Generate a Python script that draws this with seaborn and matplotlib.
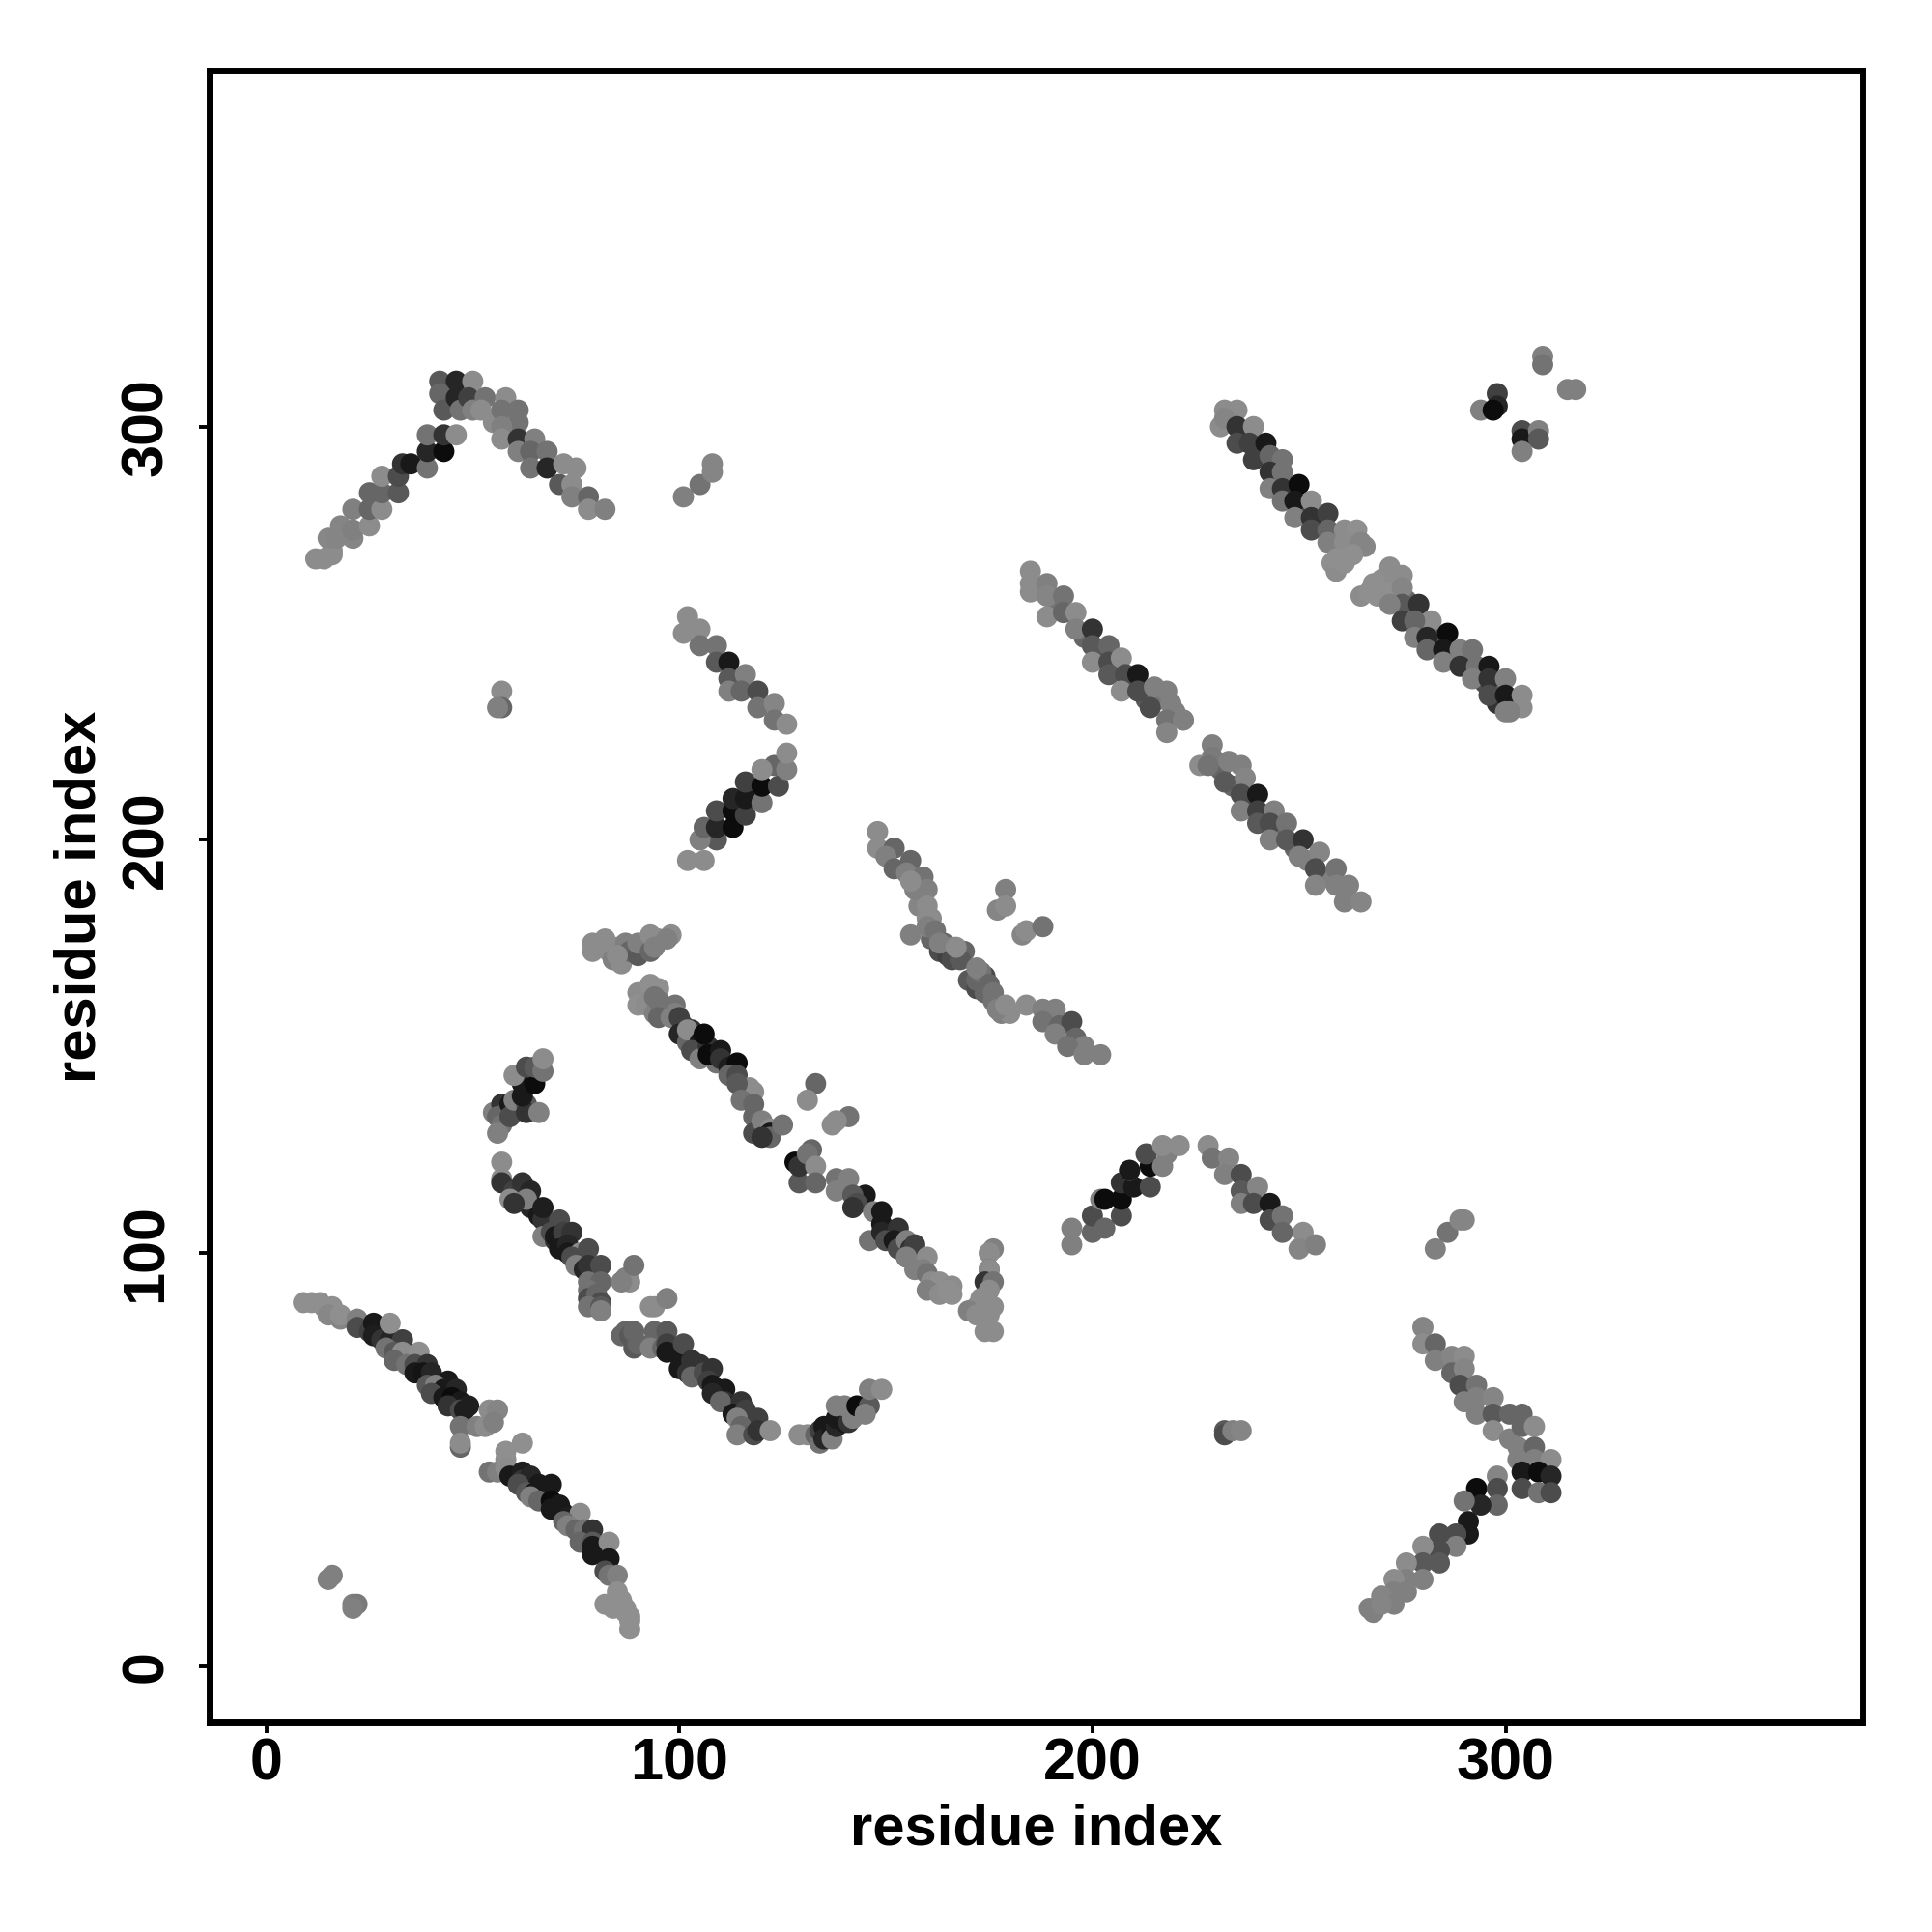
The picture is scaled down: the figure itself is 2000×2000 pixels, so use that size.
import matplotlib
matplotlib.use("Agg")
import matplotlib.pyplot as plt
import pandas as pd
import seaborn as sns

# (residue i, residue j, grey level)
band_fill = [(161,176,.4),(163,173,.3),(165,172,.25),(167,172,.3),(169,173,.4),(170,166,.35),(172,164,.3),(174,163,.4),(176,161,.45),(178,158,.5),(180,158,.55),
 (174,167,.3),(158,184,.52),(160,181,.55),(157,188,.5),(238,299,.25),(241,293,.2),(245,287,.3),(248,284,.15),(251,280,.3),(255,277,.3),(259,273,.45),(263,271,.55),
 (266,271,.53),(258,267,.56),(270,263,.56),(273,262,.55),(269,259,.56),(276,258,.4),(283,249,.3),(280,251,.35),(287,244,.3),(291,244,.35),(295,238,.3),(298,237,.35),
 (302,233,.55),(298,233,.2),(191,256,.45),(198,249,.4),(202,245,.35),(206,242,.35),(209,238,.35),(213,234,.35),(216,234,.45),(220,231,.5),(231,217,.4),(234,213,.4),
 (238,209,.3),(242,206,.25),(245,202,.4),(249,198,.4),(252,195,.5),(257,191,.5),(96,160,.45),(101,155,.3),(109,146,.45),(116,139,.5)]
band_a = [(9,88,.56),(11,88,.56),(13,88,.56),(14,87,.56),(15,86,.56),(16,87,.56),(15,85,.53),(18,84,.52),(18,85,.56),(22,84,.5),(22,82,.3),
 (25,81,.25),(26,83,.1),(26,80,.12),(28,79,.2),(30,79,.15),(33,79,.25),(30,83,.56),(29,77,.45),(31,76,.35),(33,76,.55),(37,76,.56),(31,74,.4),(34,73,.45),
 (36,73,.3),(39,73,.2),(36,71,.1),(38,71,.08),(40,71,.15),(44,69,.1),(39,68,.35),(41,68,.5),(43,67,.1),(46,67,.15),(40,66,.3),(43,65,.1),(45,65,.05),
 (47,64,.1),(49,63,.12),(44,63,.2),(47,62,.3),(48,62,.12),(47,58,.45),(51,58,.5),(53,58,.55),(54,62,.55),(56,62,.52),(55,59,.5),(47,53,.4),(47,54,.55)]
band_a2 = [(54,47,.45),(56,47,.5),(58,50,.55),(58,52,.56),(62,54,.56),(58,48,.55),(59,46,.1),(62,47,.12),(62,45,.2),(64,46,.15),(66,44,.1),(61,44,.3),
 (63,42,.35),(65,42,.1),(68,42,.1),(69,44,.1),(64,41,.5),(66,40,.4),(69,40,.05),(71,39,.1),(72,37,.1),(69,38,.1),(73,36,.12),(76,37,.55),(72,35,.4),
 (73,34,.5),(75,33,.4),(77,33,.45),(79,33,.2),(76,30,.4),(79,30,.35),(79,29,.1),(83,30,.55),(79,27,.1),(83,26,.1),(82,23,.3),(83,22,.45),(85,22,.5),
 (85,18,.56),(82,15,.56),(85,15,.56),(87,14,.56),(84,14,.56),(87,13,.56),(88,12,.56),(88,11,.56),(88,9,.56),(86,16,.56)]
spots_low = [(15,21,.5),(16,22,.5),(21,15,.5),(22,15,.48),(21,14,.5),(87,94,.5),(88,93,.55),(89,97,.45),(86,93,.5),(94,87,.55),(93,87,.55),(97,89,.5),
 (232,57,.35),(232,56,.3),(234,57,.5),(236,57,.52)]
band_b = [(57,122,.55),(57,118,.55),(57,117,.2),(60,115,.25),(62,117,.2),(64,112,.1),(64,111,.15),(64,115,.15),(63,113,.5),(59,113,.55),(60,112,.2),
 (66,109,.1),(67,108,.2),(67,111,.12),(71,108,.3),(67,104,.5),(69,105,.3),(70,103,.2),(70,104,.1),(72,105,.25),(74,105,.2),(71,101,.1),(73,102,.15),
 (73,100,.1),(76,100,.55),(78,101,.3),(74,99,.3),(75,97,.5),(77,96,.15),(78,97,.2),(81,97,.3),(78,93,.45),(81,93,.4),(78,91,.45),(78,89,.3),(80,90,.4),
 (81,88,.3),(78,87,.45),(81,87,.35),(81,86,.5)]
band_b2 = [(55,134,.5),(57,136,.2),(58,134,.3),(56,133,.4),(57,131,.45),(56,129,.5),(59,136,.1),(59,133,.3),(60,137,.5),(63,136,.35),(63,134,.2),
 (62,138,.1),(62,141,.1),(65,141,.05),(60,143,.55),(63,145,.3),(65,145,.35),(66,134,.5),(67,144,.45),(67,147,.55)]
band_c = [(86,80,.4),(87,81,.4),(88,80,.35),(89,81,.4),(89,77,.35),(90,78,.4),(94,81,.4),(93,77,.5),(96,77,.4),(97,81,.35),(97,78,.25),(97,76,.1),
 (100,75,.1),(101,78,.3),(100,72,.1),(102,71,.2),(103,74,.2),(105,73,.2),(103,70,.4),(106,71,.3),(108,72,.2),(107,69,.25),(108,68,.1),(110,66,.15),
 (111,67,.1),(108,66,.15),(111,64,.2),(113,63,.15),(110,64,.4),(115,64,.2),(113,61,.1),(116,62,.25),(119,60,.25),(114,60,.5),(115,58,.4),(114,56,.5),
 (118,56,.3),(119,57,.2),(122,57,.55)]
band_d = [(129,56,.55),(131,56,.55),(133,56,.4),(134,54,.45),(134,57,.25),(135,58,.1),(135,55,.15),(137,57,.1),(137,55,.5),(138,58,.15),(138,60,.1),
 (140,59,.1),(141,59,.2),(138,63,.5),(140,63,.5),(142,60,.5),(143,63,.05),(146,63,.35),(145,61,.5),(146,67,.5),(149,67,.55)]
band_e = [(90,163,.55),(93,165,.56),(95,164,.56),(90,160,.56),(92,160,.55),(94,158,.5),(94,162,.45),(95,161,.45),(95,157,.4),(98,157,.5),(99,160,.45),
 (99,158,.5),(100,157,.25),(100,153,.15),(102,151,.4),(103,154,.2),(102,154,.55),(106,150,.2),(105,151,.1),(103,149,.3),(105,147,.5),(107,150,.2),
 (106,153,.05),(107,148,.05),(110,149,.1),(110,147,.2),(112,145,.12),(114,146,.05),(112,143,.4),(114,143,.3),(117,140,.55),(118,139,.55),(114,141,.35),
 (115,137,.45),(118,136,.4),(118,133,.4),(118,129,.3),(120,132,.5),(122,130,.55),(122,129,.1),(122,128,.4),(120,128,.2),(125,131,.45)]
band_e2 = [(128,122,.05),(129,117,.35),(129,121,.2),(132,125,.4),(131,124,.45),(133,121,.55),(133,117,.4),(138,118,.45),(141,118,.5),(138,115,.5),
 (145,114,.1),(142,114,.35),(143,112,.3),(142,111,.2),(147,110,.5),(149,110,.1),(146,103,.45),(149,107,.1),(149,105,.15),(153,106,.2),(150,103,.3),
 (152,103,.1),(153,101,.3),(155,103,.5),(156,101,.2),(155,99,.3),(157,102,.25),(160,99,.55),(157,96,.5),(159,96,.5),(155,99,.5),(160,95,.45),(161,93,.55),
 (163,93,.56),(164,92,.56),(160,91,.5),(163,90,.55),(166,92,.55),(165,91,.56),(166,90,.56)]
spots_mid = [(133,141,.4),(131,137,.55),(141,133,.45),(137,131,.55),(138,132,.55),(57,236,.55),(57,232,.4),(56,232,.5),(179,188,.5),(177,183,.52),
 (179,184,.55),(183,177,.52),(184,178,.55),(188,179,.45)]
band_v = [(176,101,.5),(175,100,.55),(175,96,.4),(175,96,.55),(174,93,.2),(176,93,.45),(173,89,.55),(175,91,.55),(172,87,.55),(176,87,.55),(170,86,.5),
 (172,85,.55),(175,85,.55),(174,81,.55),(176,81,.55)]
band_f = [(148,202,.55),(148,198,.55),(152,198,.4),(150,196,.5),(156,195,.4),(152,193,.4),(155,192,.5),(159,191,.45),(160,188,.5),(156,190,.55),(160,184,.55),
 (161,181,.55),(156,177,.5),(160,179,.5),(162,178,.45),(164,175,.4),(166,174,.5),(163,175,.5),(166,171,.3),(168,171,.35),(167,174,.55),
 (172,166,.4),(173,168,.45),(172,169,.5),(175,165,.4),(176,163,.45),(177,159,.5),(179,160,.55),(184,160,.55),(188,159,.5),(191,159,.5),(188,156,.45),
 (192,155,.4),(195,156,.3),(191,153,.5),(196,152,.4),(198,150,.5),(194,150,.45),(198,148,.5),(202,148,.5)]
band_g = [(79,175,.55),(79,173,.55),(82,176,.55),(83,173,.55),(85,174,.55),(84,171,.5),(86,170,.55),(87,175,.5),(88,173,.4),(90,172,.35),(90,175,.5),
 (92,175,.5),(93,173,.4),(93,177,.55),(95,176,.55),(94,174,.5),(98,177,.55),(97,176,.5),(85,172,.55)]
band_h = [(14,268,.55),(12,268,.55),(16,269,.55),(16,270,.55),(15,273,.53),(17,273,.52),(18,276,.52),(21,273,.52),(21,275,.5),(25,276,.55),(21,280,.5),(25,280,.4),
 (28,280,.55),(25,284,.4),(28,284,.4),(32,284,.35),(28,288,.55),(32,288,.3),(33,291,.2),(35,291,.1),(39,290,.45),(39,294,.15),(43,294,.05),(39,298,.45),
 (43,298,.2),(46,298,.55)]
band_h2 = [(42,311,.35),(46,311,.15),(50,311,.55),(42,308,.4),(43,304,.35),(46,307,.15),(47,304,.45),(49,307,.25),(50,304,.5),(53,307,.45),(52,304,.55),
 (55,301,.55),(58,307,.55),(57,304,.45),(61,304,.45),(61,301,.45),(57,300,.5),(57,297,.55),(61,297,.2),(65,297,.5),(61,294,.5),(64,294,.4),(68,294,.45),
 (64,290,.45),(68,290,.15),(72,291,.55),(75,290,.55),(71,286,.35),(74,286,.55),(74,283,.5),(78,283,.4),(78,280,.55),(82,280,.5)]
spots_top = [(101,283,.5),(105,286,.45),(108,289,.52),(108,291,.52),(309,317,.5),(309,315,.45),(315,309,.5),(317,309,.5),(298,308,.25),(298,305,.15),(294,304,.5),
 (297,304,.05),(304,299,.3),(304,297,.1),(308,299,.5),(308,297,.35),(304,294,.5)]
band_i = [(102,254,.55),(101,250,.55),(105,251,.55),(105,247,.45),(109,247,.45),(109,243,.35),(112,243,.1),(112,239,.35),(116,240,.5),(112,236,.5),(115,236,.4),
 (119,236,.3),(119,232,.45),(123,233,.52),(123,229,.45),(126,228,.55)]
band_j = [(106,195,.55),(102,195,.55),(109,200,.35),(105,200,.5),(106,203,.4),(109,203,.15),(113,203,.05),(109,207,.3),(113,207,.05),(116,206,.25),(113,210,.15),
 (116,210,.1),(120,209,.45),(116,214,.25),(120,213,.05),(124,213,.3),(123,218,.4),(120,217,.55),(126,217,.5),(126,221,.55)]
band_k1 = [(232,304,.55),(235,304,.55),(231,300,.55),(232,302,.52),(235,300,.2),(239,300,.55),(235,296,.3),(238,296,.25),(242,296,.1),(239,292,.25),(243,293,.4),
 (246,292,.45),(243,289,.2),(246,289,.45),(243,285,.5),(246,285,.2),(250,286,.05),(246,282,.45),(249,282,.1),(253,282,.55),(249,278,.5),(253,278,.2),(257,279,.25),
 (253,275,.3),(257,275,.4),(261,275,.55),(264,275,.56),(257,272,.5),(261,272,.55),(265,272,.52),(260,268,.56),(263,269,.56),(259,265,.55),(261,267,.56),(259,268,.56)]
band_k1b = [(272,266,.55),(275,264,.55),(268,262,.56),(265,259,.55),(267,260,.56),(271,260,.56),(275,261,.52),(275,257,.35),(279,257,.2),(272,257,.5),(275,253,.25),
 (282,253,.55),(278,253,.4),(278,249,.5),(281,249,.15),(286,250,.05),(281,246,.4),(285,246,.1),(289,246,.5),(292,246,.45),(285,243,.5),(289,242,.2),(293,242,.45),
 (296,242,.1),(292,239,.5),(296,239,.2),(300,239,.5),(296,235,.3),(300,235,.1),(304,235,.55),(300,231,.5),(304,232,.55),(301,231,.5)]
band_k2 = [(185,265,.55),(185,262,.55),(185,260,.55),(189,262,.5),(189,259,.52),(193,259,.45),(189,254,.55),(193,255,.4),(196,255,.55),(196,251,.5),(200,251,.2),
 (200,247,.35),(204,247,.4),(200,243,.55),(204,243,.3),(207,244,.55),(204,240,.35),(208,240,.3),(211,240,.1),(207,236,.55),(211,236,.3),(215,237,.5),(218,236,.5),
 (214,232,.3),(219,233,.5),(218,229,.45),(222,229,.5),(218,226,.52),(222,229,.5)]
band_k3 = [(229,223,.5),(229,220,.48),(226,218,.55),(228,218,.45),(233,219,.5),(236,218,.5),(232,214,.35),(237,215,.52),(236,211,.3),(240,211,.1),(236,207,.5),
 (240,207,.25),(244,207,.5),(240,204,.35),(243,204,.3),(247,204,.45),(243,200,.5),(247,200,.35),(251,200,.2),(250,196,.5),(255,197,.52),(254,193,.3),(259,193,.45),
 (254,189,.52),(259,189,.5),(262,189,.5),(261,185,.5),(265,185,.52)]
band_n = [(195,102,.5),(195,106,.5),(200,105,.4),(200,109,.3),(203,106,.4),(202,113,.5),(203,113,.05),(207,109,.3),(207,113,.05),(207,117,.2),(210,116,.1),(214,116,.3),
 (209,120,.55),(209,120,.1),(214,121,.05),(213,124,.3),(217,121,.5),(218,124,.5),(217,126,.55),(221,126,.55),
 (228,126,.55),(229,123,.45),(233,123,.52),(232,119,.5),(236,119,.3),(236,115,.35),(240,116,.52),(236,112,.5),(239,112,.3),(243,112,.1),(243,108,.3),(246,109,.45),
 (246,105,.4),(251,105,.55),(250,101,.52),(254,102,.5)]
spots_right = [(283,101,.5),(286,105,.45),(289,108,.52),(290,108,.52)]
band_l = [(280,82,.52),(280,78,.55),(283,78,.4),(283,74,.5),(287,75,.52),(290,75,.55),(287,71,.4),(290,72,.52),(289,68,.3),(293,68,.45),(290,64,.5),(293,65,.5),
 (297,65,.52),(293,61,.5),(297,61,.35),(301,61,.4),(304,61,.4),(297,57,.55),(301,55,.5),(304,58,.4),(307,58,.55),(303,53,.5),(307,53,.4),(303,50,.5),(307,50,.5),
 (311,50,.55),(304,47,.1),(308,47,.05),(311,46,.15),(304,43,.3),(308,42,.45),(311,42,.3)]
band_m = [(298,46,.52),(293,43,.05),(298,43,.3),(298,39,.4),(294,39,.15),(290,40,.45),(291,35,.1),(291,32,.1),(288,32,.3),(288,29,.5),(284,32,.3),(284,28,.3),(284,25,.35),
 (280,29,.55),(280,25,.35),(280,21,.5),(276,25,.55),(276,21,.5),(273,21,.55),(276,18,.5),(273,18,.5),(270,17,.52),(273,15,.5),(267,14,.5),(268,13,.5),(270,15,.52)]

xy_ticks = [0, 100, 200, 300]
axis_label = "residue index"

bands = [band_fill, band_a, band_a2, spots_low, band_b, band_b2, band_c, band_d, band_e, band_e2, spots_mid, band_v, band_f, band_g,
         band_h, band_h2, spots_top, band_i, band_j, band_k1, band_k1b, band_k2, band_k3, band_n, spots_right, band_l, band_m]
df = pd.DataFrame([p for b in bands for p in b], columns=["i", "j", "grey"])

sns.set_theme(style="white")
plt.rcParams["font.family"] = ["Liberation Sans", "DejaVu Sans"]
plt.rcParams["font.weight"] = "bold"

fig = plt.figure(figsize=(10, 10), dpi=200)
ax = fig.add_axes([217/2000, 217/2000, 1711/2000, 1710/2000])
sns.scatterplot(data=df, x="i", y="j", hue="grey", palette="gray", hue_norm=(0, 1),
                s=62, linewidth=0, legend=False, ax=ax, zorder=3)
ax.set_xlim(-13.7, 386.4)
ax.set_ylim(-13.6, 386.2)
ax.set_xticks(xy_ticks)
ax.set_yticks(xy_ticks)
ax.tick_params(axis="both", length=4, width=1.4, color="black", labelsize=22, labelcolor="black", bottom=True, left=True)
ax.tick_params(axis="x", pad=1.5)
ax.tick_params(axis="y", pad=9)
plt.setp(ax.get_yticklabels(), rotation=90, va="center")
for sp in ax.spines.values():
    sp.set_linewidth(2.5)
    sp.set_color("black")
ax.set_xlabel(axis_label, fontsize=21.5, fontweight="bold", color="black")
ax.set_ylabel(axis_label, fontsize=21.5, fontweight="bold", color="black")
ax.xaxis.set_label_coords(0.5, -0.049)
ax.yaxis.set_label_coords(-0.0625, 0.5)
fig.savefig("out.png", dpi=200, facecolor="white")
